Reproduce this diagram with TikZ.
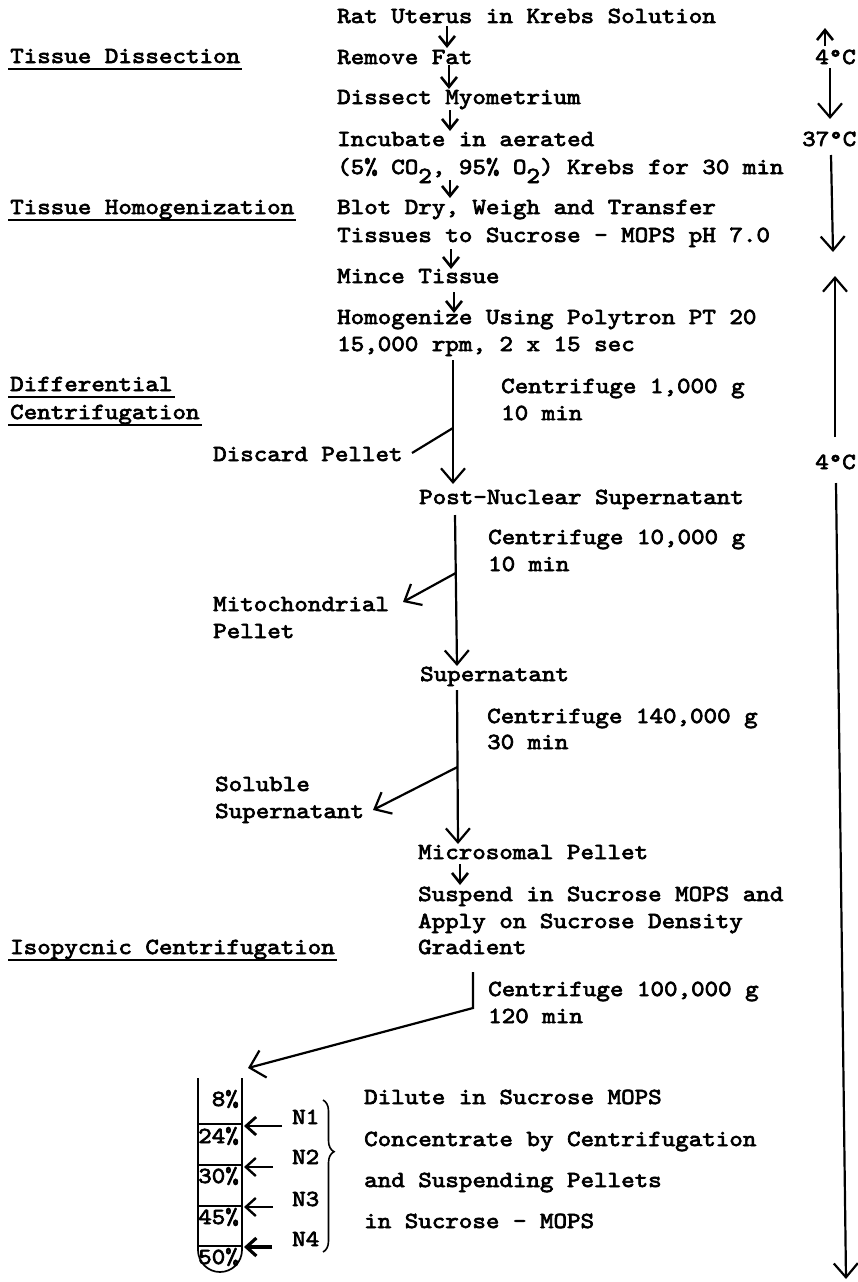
\documentclass[tikz,border=0pt]{standalone}
\usepackage{fontspec}
\newfontfamily\tw{lmmono10-regular.otf}[FakeStretch=1.12,FakeBold=3]
\usetikzlibrary{arrows.meta,decorations.pathreplacing}
\begin{document}
\begin{tikzpicture}[x=1pt,y=-1pt,
  txt/.style={anchor=base west, inner sep=0pt, font=\tw\fontsize{23}{27}\selectfont},
  rtxt/.style={txt, anchor=base east},
  uline/.style={line width=1.6pt},
  small/.style={line width=2.6pt, -{Straight Barb[length=10pt,width=16pt]}},
  big/.style={line width=2.2pt, -{Straight Barb[length=14pt,width=24pt]}},
  plain/.style={line width=2.2pt},
  narr/.style={line width=2.8pt, -{Straight Barb[length=10pt,width=18pt]}},
  tube/.style={line width=1.7pt},
  brc/.style={line width=1.6pt, decorate, decoration={brace, amplitude=11pt, aspect=0.34}}
]
\useasboundingbox (0,0) rectangle (858,1282);

% ---------- left phase labels ----------
\node[txt] (ld) at (10,63) {Tissue Dissection};
\node[txt] (lh) at (10,214) {Tissue Homogenization};
\node[txt] (ldc1) at (10,391) {Differential};
\node[txt] (ldc2) at (10,419) {Centrifugation};
\node[txt] (li) at (10,954) {Isopycnic Centrifugation};
\foreach \n in {ld,lh,ldc1,ldc2,li}
  \draw[uline] ([xshift=-2pt,yshift=-6pt]\n.base west) -- ([xshift=2pt,yshift=-6pt]\n.base east);

% ---------- main column ----------
\node[txt] (rat) at (337,23) {Rat Uterus in Krebs Solution};
\node[txt] (rem) at (337,64) {Remove Fat};
\node[txt] (dis) at (337,104) {Dissect Myometrium};
\node[txt] (inc1) at (337,146) {Incubate in aerated};
\node[txt] (inc2) at (337,174) {(5\% CO\raisebox{-9pt}{2}, 95\% O\raisebox{-9pt}{2}) Krebs for 30 min};
\node[txt] (blot1) at (337,214) {Blot Dry, Weigh and Transfer};
\node[txt] (blot2) at (337,242) {Tissues to Sucrose - MOPS pH 7.0};
\node[txt] (mince) at (337,283) {Mince Tissue};
\node[txt] (hom1) at (337,324) {Homogenize Using Polytron PT 20};
\node[txt] (hom2) at (337,351) {15,000 rpm, 2 x 15 sec};
\node[txt] (c1a) at (501,393) {Centrifuge 1,000 g};
\node[txt] (c1b) at (501,420) {10 min};
\node[txt] (discard) at (213,461) {Discard Pellet};
\node[txt] (pns) at (419,504) {Post-Nuclear Supernatant};
\node[txt] (c2a) at (488,544) {Centrifuge 10,000 g};
\node[txt] (c2b) at (488,571) {10 min};
\node[txt] (mito1) at (213,611) {Mitochondrial};
\node[txt] (mito2) at (213,638) {Pellet};
\node[txt] (sup) at (420,681) {Supernatant};
\node[txt] (c3a) at (487,723) {Centrifuge 140,000 g};
\node[txt] (c3b) at (487,749) {30 min};
\node[txt] (sol1) at (215,791) {Soluble};
\node[txt] (sol2) at (215,818) {Supernatant};
\node[txt] (micro) at (418,859) {Microsomal Pellet};
\node[txt] (susp1) at (418,901) {Suspend in Sucrose MOPS and};
\node[txt] (susp2) at (418,928) {Apply on Sucrose Density};
\node[txt] (susp3) at (418,954) {Gradient};
\node[txt] (c4a) at (488,996) {Centrifuge 100,000 g};
\node[txt] (c4b) at (488,1023) {120 min};

% ---------- gradient tube ----------
\draw[tube] (198,1078) -- (198,1250) arc[start angle=180,end angle=360,radius=22pt] -- (242,1078);
\foreach \yy in {1124,1165,1206,1246}
  \draw[tube] (198,\yy) -- (242,\yy);
\node[rtxt] (p8) at (239,1106) {8\%};
\node[rtxt] (p24) at (239,1143) {24\%};
\node[rtxt] (p30) at (239,1183) {30\%};
\node[rtxt] (p45) at (239,1224) {45\%};
\node[rtxt] (p50) at (239,1264) {50\%};
\node[txt] (n1) at (292,1124) {N1};
\node[txt] (n2) at (292,1164) {N2};
\node[txt] (n3) at (292,1206) {N3};
\node[txt] (n4) at (292,1246) {N4};
\node[txt] (dil1) at (364,1104) {Dilute in Sucrose MOPS};
\node[txt] (dil2) at (364,1146) {Concentrate by Centrifugation};
\node[txt] (dil3) at (364,1187) {and Suspending Pellets};
\node[txt] (dil4) at (364,1228) {in Sucrose - MOPS};
\draw[brc] (323,1100) -- (323,1252);

% ---------- temperatures ----------
\node[txt] (t4a) at (815,64) {4°C};
\node[txt] (t37) at (802,146) {37°C};
\node[txt] (t4b) at (815,469) {4°C};

% ---------- coordinates ----------
\coordinate (a1s) at (447,26);  \coordinate (a1e) at (447,48);
\coordinate (a2s) at (449,65);  \coordinate (a2e) at (449,89);
\coordinate (a3s) at (450,110); \coordinate (a3e) at (450,131);
\coordinate (a4s) at (450,180); \coordinate (a4e) at (450,198);
\coordinate (a5s) at (451,249); \coordinate (a5e) at (451,269);
\coordinate (a6s) at (454,292); \coordinate (a6e) at (454,313);
\coordinate (a10s) at (460,864); \coordinate (a10e) at (460,885);
\coordinate (b1s) at (453,360); \coordinate (b1j) at (453,428); \coordinate (b1e) at (453,484);
\coordinate (d1) at (412,453);
\coordinate (b2s) at (455,515); \coordinate (b2j) at (455.8,573); \coordinate (b2e) at (457,666);
\coordinate (d2) at (403,602);
\coordinate (b3s) at (457,690); \coordinate (b3j) at (457.5,767); \coordinate (b3e) at (458,844);
\coordinate (d3) at (373,810);
\coordinate (b4s) at (473,972); \coordinate (b4k) at (473,1008); \coordinate (tubetop) at (248,1068);
\coordinate (q1) at (282,1126); \coordinate (r1) at (244,1126);
\coordinate (q2) at (273,1167); \coordinate (r2) at (244,1167);
\coordinate (q3) at (273,1207); \coordinate (r3) at (244,1207);
\coordinate (q4) at (272,1247); \coordinate (r4) at (244,1247);
\coordinate (u1s) at (825,46);  \coordinate (u1e) at (825,28);
\coordinate (u2s) at (830,68);  \coordinate (u2e) at (830,119);
\coordinate (u3s) at (831,155); \coordinate (u3e) at (833,252);
\coordinate (u4s) at (835,437); \coordinate (u4e) at (835,276);
\coordinate (u5s) at (836,483); \coordinate (u5e) at (846,1279);

% ---------- connectors ----------
\foreach \a in {a1,a2,a3,a4,a5,a6,a10}
  \draw[small] (\a s) -- (\a e);
\draw[big] (b1s) -- (b1e);
\draw[plain] (b1j) -- (d1);
\draw[big] (b2s) -- (b2e);
\draw[big] (b2j) -- (d2);
\draw[big] (b3s) -- (b3e);
\draw[big] (b3j) -- (d3);
\draw[big, -{Straight Barb[length=14pt,width=28pt]}] (b4s) -- (b4k) -- (tubetop);
\draw[narr] (q1) -- (r1);
\draw[narr, line width=2.4pt] (q2) -- (r2);
\draw[narr, line width=2.4pt] (q3) -- (r3);
\draw[narr, line width=3.2pt] (q4) -- (r4);
\draw[small] (u1s) -- (u1e);
\draw[big] (u2s) -- (u2e);
\draw[big] (u3s) -- (u3e);
\draw[big] (u4s) -- (u4e);
\draw[big] (u5s) -- (u5e);
\end{tikzpicture}
\end{document}
